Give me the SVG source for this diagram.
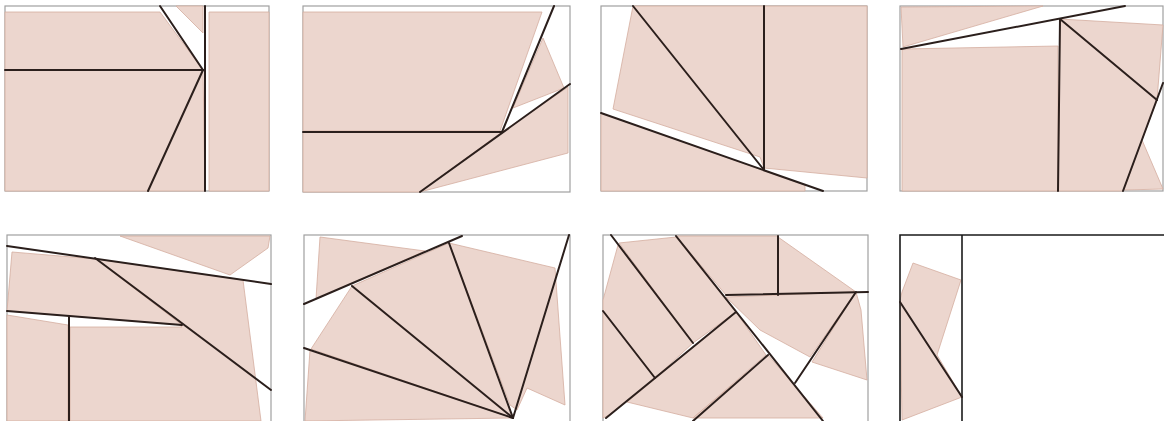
<svg xmlns="http://www.w3.org/2000/svg" width="1164" height="421" viewBox="0 0 1164 421">
<style>
.frame{fill:none;stroke:#a0a0a0;stroke-width:1.2}
.frame8{fill:none;stroke:#1a1a1a;stroke-width:1.6}
.p{fill:#ecd6ce;stroke:#d4ada0;stroke-width:0.8;stroke-linejoin:round}
.l{fill:none;stroke:#2b1f1c;stroke-width:2;stroke-linecap:round}
</style>
<rect width="1164" height="421" fill="#ffffff"/>
<g id="panel1">
<rect class="frame" x="5" y="6" width="264" height="185"/>
<polygon class="p" points="5,12 160,12 203,70 5,70"/>
<polygon class="p" points="5,70 203,70 148,191 5,191"/>
<polygon class="p" points="203,70 205,191 148,191"/>
<polygon class="p" points="176,6 203,6 203,33"/>
<polygon class="p" points="209,12 269,12 269,191 209,191"/>
<g class="connectors">
<line class="l" x1="5" y1="70" x2="203" y2="70"/>
<line class="l" x1="160" y1="6" x2="203" y2="70"/>
<line class="l" x1="203" y1="70" x2="148" y2="191"/>
<line class="l" x1="205" y1="6" x2="205" y2="191"/>
</g>
</g>
<g id="panel2">
<rect class="frame" x="303" y="6" width="267" height="186"/>
<polygon class="p" points="303,12 542,12 500,131 303,131"/>
<polygon class="p" points="303,132 502,132 420,192 303,192"/>
<polygon class="p" points="543,38 564,88 513,108"/>
<polygon class="p" points="502,132 568,87 568,153 420,192"/>
<g class="connectors">
<line class="l" x1="303" y1="132" x2="502" y2="132"/>
<line class="l" x1="502" y1="132" x2="554" y2="6"/>
<line class="l" x1="420" y1="192" x2="570" y2="84"/>
</g>
</g>
<g id="panel3">
<rect class="frame" x="601" y="6" width="266" height="185"/>
<polygon class="p" points="633,6 764,6 764,168 760,157 613,109"/>
<polygon class="p" points="764,6 867,6 867,178 764,168"/>
<polygon class="p" points="601,113 805,185 805,191 601,191"/>
<g class="connectors">
<line class="l" x1="633" y1="6" x2="764" y2="170"/>
<line class="l" x1="764" y1="6" x2="764" y2="170"/>
<line class="l" x1="601" y1="113" x2="823" y2="191"/>
</g>
</g>
<g id="panel4">
<rect class="frame" x="900" y="6" width="263" height="185"/>
<polygon class="p" points="901,7 1043,6 903,47"/>
<polygon class="p" points="902,49 1058,46 1058,191 902,191"/>
<polygon class="p" points="1060,19 1163,25 1157,100 1123,191 1058,191"/>
<polygon class="p" points="1142,140 1163,189 1124,190"/>
<g class="connectors">
<line class="l" x1="901" y1="49" x2="1125" y2="6"/>
<line class="l" x1="1060" y1="19" x2="1058" y2="191"/>
<line class="l" x1="1060" y1="19" x2="1157" y2="100"/>
<line class="l" x1="1163" y1="83" x2="1123" y2="191"/>
</g>
</g>
<g id="panel5">
<rect class="frame" x="7" y="235" width="264" height="200"/>
<polygon class="p" points="120,236 270,236 268,248 230,275"/>
<polygon class="p" points="96,259 243,280 261,421 70,421 70,327 182,327"/>
<polygon class="p" points="12,252 96,259 182,325 7,311"/>
<polygon class="p" points="7,315 68,325 68,421 7,421"/>
<g class="connectors">
<line class="l" x1="7" y1="246" x2="271" y2="284"/>
<line class="l" x1="7" y1="311" x2="182" y2="325"/>
<line class="l" x1="95" y1="258" x2="271" y2="390"/>
<line class="l" x1="69" y1="317" x2="69" y2="421"/>
</g>
</g>
<g id="panel6">
<rect class="frame" x="304" y="235" width="266" height="200"/>
<polygon class="p" points="320,237 425,251 316,299"/>
<polygon class="p" points="352,286 449,243 513,418"/>
<polygon class="p" points="352,286 513,418 311,349"/>
<polygon class="p" points="310,350 513,418 305,421"/>
<polygon class="p" points="449,243 555,268 565,405 527,388 517,410 510,405"/>
<g class="connectors">
<line class="l" x1="304" y1="304" x2="462" y2="236"/>
<line class="l" x1="304" y1="348" x2="513" y2="418"/>
<line class="l" x1="352" y1="286" x2="513" y2="418"/>
<line class="l" x1="449" y1="243" x2="513" y2="418"/>
<line class="l" x1="569" y1="235" x2="513" y2="418"/>
</g>
</g>
<g id="panel7">
<rect class="frame" x="603" y="235" width="265" height="200"/>
<polygon class="p" points="676,236 778,236 778,294 726,295"/>
<polygon class="p" points="778,237 856,292 778,294"/>
<polygon class="p" points="726,297 856,292 810,357 760,330"/>
<polygon class="p" points="856,292 861,310 867,380 812,362"/>
<polygon class="p" points="619,243 676,237 736,312 693,343"/>
<polygon class="p" points="618,245 693,343 655,378 603,311 603,300"/>
<polygon class="p" points="603,311 655,378 609,415 603,418"/>
<polygon class="p" points="736,312 766,355 693,418 627,402"/>
<polygon class="p" points="768,355 823,418 693,418"/>
<g class="connectors">
<line class="l" x1="611" y1="235" x2="693" y2="343"/>
<line class="l" x1="603" y1="311" x2="655" y2="378"/>
<line class="l" x1="676" y1="236" x2="823" y2="421"/>
<line class="l" x1="606" y1="418" x2="736" y2="312"/>
<line class="l" x1="693" y1="421" x2="768" y2="355"/>
<line class="l" x1="726" y1="295" x2="868" y2="292"/>
<line class="l" x1="778" y1="236" x2="778" y2="295"/>
<line class="l" x1="856" y1="292" x2="795" y2="383"/>
</g>
</g>
<g id="panel8">
<polygon class="p" points="913,263 961,280 937,355 962,397 902,420 900,300 902,292"/>
<polyline class="frame8" points="900,430 900,235 1166,235"/>
<line class="frame8" x1="962" y1="235" x2="962" y2="430"/>
<g class="connectors">
<line class="l" x1="900" y1="302" x2="962" y2="397"/>
</g>
</g>
</svg>
